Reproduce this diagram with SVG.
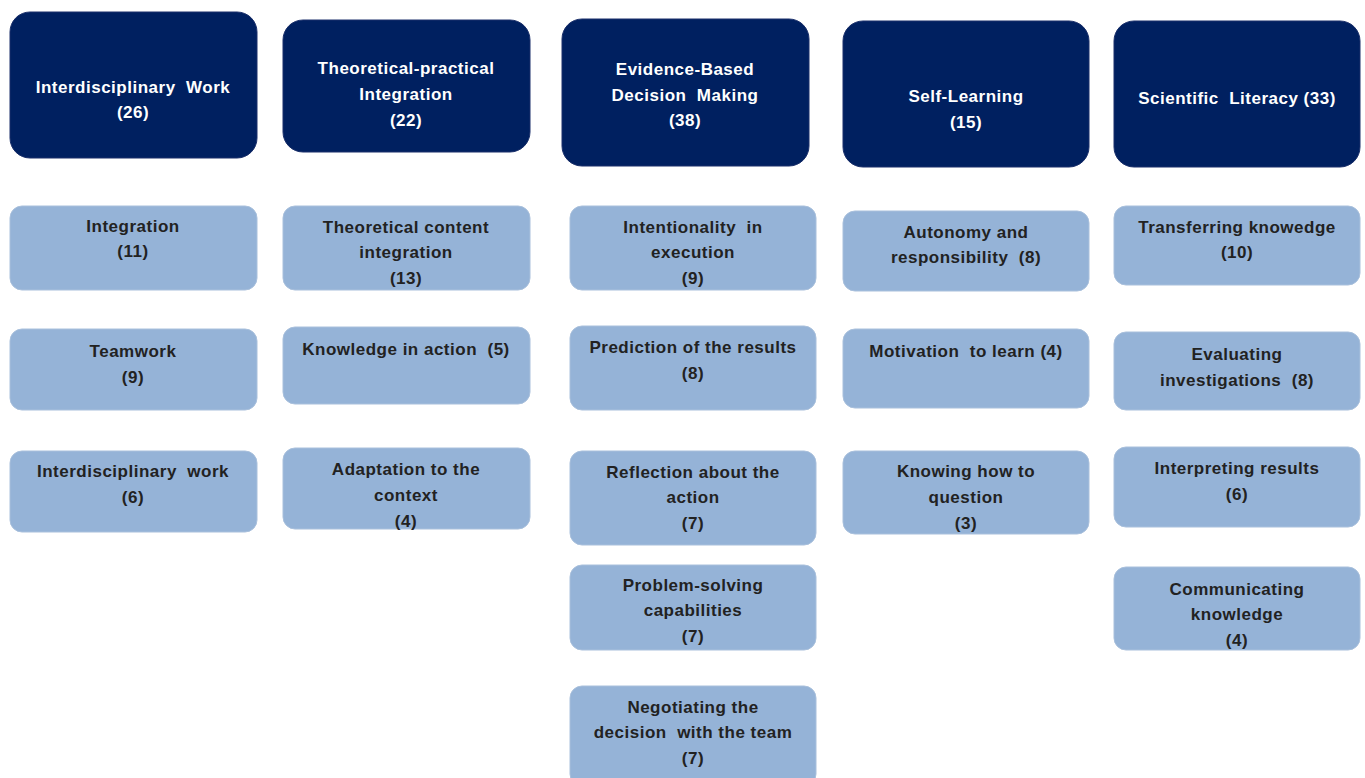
<svg xmlns="http://www.w3.org/2000/svg" width="1365" height="778" viewBox="0 0 1365 778">
<style>
.h rect{fill:#002060;stroke:#1a2f6a;stroke-width:1}
.s rect{fill:#95b3d7;stroke:#a9c0dc;stroke-width:1}
text{font-family:"Liberation Sans",Arial,sans-serif;font-weight:bold;font-size:17px;letter-spacing:0.5px;text-anchor:middle}
.h text{fill:#ffffff}
.s text{fill:#222222}
</style>
<rect width="1365" height="778" fill="#ffffff"/>
<g id="connectors"></g>
<!-- Column 1 -->
<g id="h1" class="h"><rect x="10" y="12" width="247" height="146" rx="20"/><text x="133" y="93" xml:space="preserve">Interdisciplinary  Work</text><text x="133" y="118">(26)</text></g>
<g id="c1a" class="s"><rect x="10" y="206" width="247" height="84" rx="12"/><text x="133" y="232">Integration</text><text x="133" y="257">(11)</text></g>
<g id="c1b" class="s"><rect x="10" y="329" width="247" height="81" rx="12"/><text x="133" y="357">Teamwork</text><text x="133" y="383">(9)</text></g>
<g id="c1c" class="s"><rect x="10" y="451" width="247" height="81" rx="12"/><text x="133" y="477" xml:space="preserve">Interdisciplinary  work</text><text x="133" y="503">(6)</text></g>
<!-- Column 2 -->
<g id="h2" class="h"><rect x="283" y="20" width="247" height="132" rx="20"/><text x="406" y="74">Theoretical-practical</text><text x="406" y="100">Integration</text><text x="406" y="126">(22)</text></g>
<g id="c2a" class="s"><rect x="283" y="206" width="247" height="84" rx="12"/><text x="406" y="233">Theoretical content</text><text x="406" y="258">integration</text><text x="406" y="284">(13)</text></g>
<g id="c2b" class="s"><rect x="283" y="327" width="247" height="77" rx="12"/><text x="406" y="355" xml:space="preserve">Knowledge in action  (5)</text></g>
<g id="c2c" class="s"><rect x="283" y="448" width="247" height="81" rx="12"/><text x="406" y="475">Adaptation to the</text><text x="406" y="501">context</text><text x="406" y="527">(4)</text></g>
<!-- Column 3 -->
<g id="h3" class="h"><rect x="562" y="19" width="247" height="147" rx="20"/><text x="685" y="75">Evidence-Based</text><text x="685" y="101" xml:space="preserve">Decision  Making</text><text x="685" y="126">(38)</text></g>
<g id="c3a" class="s"><rect x="570" y="206" width="246" height="84" rx="12"/><text x="693" y="233" xml:space="preserve">Intentionality  in</text><text x="693" y="258">execution</text><text x="693" y="284">(9)</text></g>
<g id="c3b" class="s"><rect x="570" y="326" width="246" height="84" rx="12"/><text x="693" y="353">Prediction of the results</text><text x="693" y="379">(8)</text></g>
<g id="c3c" class="s"><rect x="570" y="451" width="246" height="94" rx="12"/><text x="693" y="478">Reflection about the</text><text x="693" y="503">action</text><text x="693" y="529">(7)</text></g>
<g id="c3d" class="s"><rect x="570" y="565" width="246" height="85" rx="12"/><text x="693" y="591">Problem-solving</text><text x="693" y="616">capabilities</text><text x="693" y="642">(7)</text></g>
<g id="c3e" class="s"><rect x="570" y="686" width="246" height="100" rx="12"/><text x="693" y="713">Negotiating the</text><text x="693" y="738" xml:space="preserve">decision  with the team</text><text x="693" y="764">(7)</text></g>
<!-- Column 4 -->
<g id="h4" class="h"><rect x="843" y="21" width="246" height="146" rx="20"/><text x="966" y="102">Self-Learning</text><text x="966" y="128">(15)</text></g>
<g id="c4a" class="s"><rect x="843" y="211" width="246" height="80" rx="12"/><text x="966" y="238">Autonomy and</text><text x="966" y="263" xml:space="preserve">responsibility  (8)</text></g>
<g id="c4b" class="s"><rect x="843" y="329" width="246" height="79" rx="12"/><text x="966" y="357" xml:space="preserve">Motivation  to learn (4)</text></g>
<g id="c4c" class="s"><rect x="843" y="451" width="246" height="83" rx="12"/><text x="966" y="477">Knowing how to</text><text x="966" y="503">question</text><text x="966" y="529">(3)</text></g>
<!-- Column 5 -->
<g id="h5" class="h"><rect x="1114" y="21" width="246" height="146" rx="20"/><text x="1237" y="104" xml:space="preserve">Scientific  Literacy (33)</text></g>
<g id="c5a" class="s"><rect x="1114" y="206" width="246" height="79" rx="12"/><text x="1237" y="233">Transferring knowedge</text><text x="1237" y="258">(10)</text></g>
<g id="c5b" class="s"><rect x="1114" y="332" width="246" height="78" rx="12"/><text x="1237" y="360">Evaluating</text><text x="1237" y="386" xml:space="preserve">investigations  (8)</text></g>
<g id="c5c" class="s"><rect x="1114" y="447" width="246" height="80" rx="12"/><text x="1237" y="474">Interpreting results</text><text x="1237" y="500">(6)</text></g>
<g id="c5d" class="s"><rect x="1114" y="567" width="246" height="83" rx="12"/><text x="1237" y="595">Communicating</text><text x="1237" y="620">knowledge</text><text x="1237" y="646">(4)</text></g>
</svg>
